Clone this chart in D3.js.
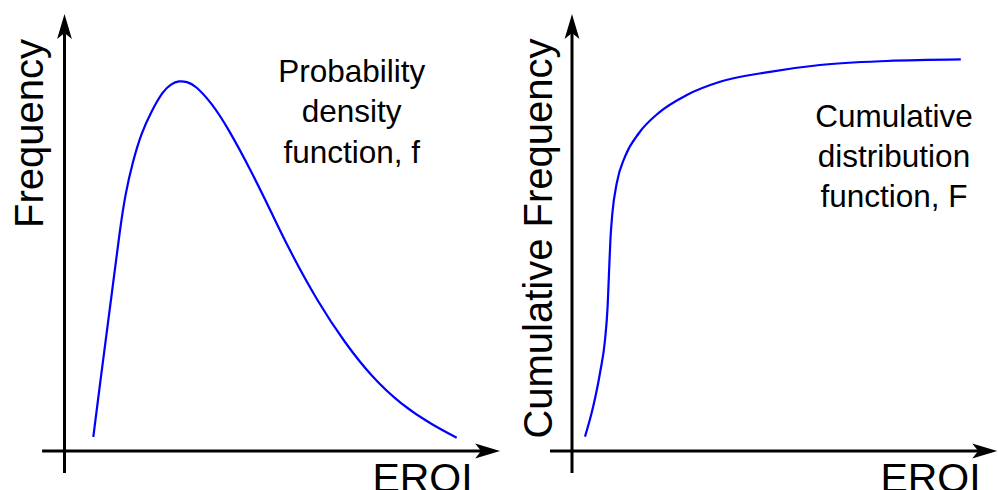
<!DOCTYPE html>
<html>
<head>
<meta charset="utf-8">
<script src="https://cdn.jsdelivr.net/npm/d3@7"></script>
<style>
  html, body { margin: 0; padding: 0; background: #fff; }
  svg { display: block; }
  text { font-family: "Liberation Sans", Arial, Helvetica, sans-serif; fill: #000; }
</style>
</head>
<body>
<svg id="chart" width="998" height="490"></svg>
<script>
// ---- Data (EROI in arbitrary units 0..100, frequency in arbitrary units 0..100) ----
const pdfEROI = [7.2, 8.875, 10.5, 12.125, 13.875, 15.25, 17.125, 19.125, 21.75, 24.625, 26.625, 28.625, 30.625, 32.625, 36.8, 40.875, 46.8, 51.8, 55.95, 63.45, 70.125, 76.8, 84.3, 91.8, 98.05];
const pdfFreq = [3.5, 16.75, 29.25, 41.625, 55.5, 64.5, 72.5, 79.25, 85.0, 90.0, 91.75, 92.575, 92.3, 91.5, 87.0, 80.75, 69.75, 59.5, 50.75, 37.0, 27.0, 18.5, 11.5, 6.625, 3.325];

const cdfEROI = [3.25, 5.3, 7.0, 8.25, 8.9, 9.25, 9.6, 10.1, 11.2, 13.25, 16.75, 21.75, 28.7, 37.0, 49.5, 62.0, 78.7, 97.2];
const cdfFreq = [3.6, 11.1, 19.5, 27.75, 36.1, 44.5, 52.75, 59.5, 67.0, 73.6, 79.5, 84.6, 89.0, 92.3, 94.8, 96.5, 97.5, 97.9];

// axis extents (in data units), with arrow at the max end
const leftXAxisExtent = [-5.6, 108.9];
const leftYAxisExtent = [-5.5, 109.25];
const rightXAxisExtent = [-5.5, 106.3];
const rightYAxisExtent = [-5.5, 109.25];

const labels = {
  leftY: "Frequency",
  rightY: "Cumulative Frequency",
  x: "EROI",
  leftNote: ["Probability", "density", "function, f"],
  rightNote: ["Cumulative", "distribution", "function, F"]
};

// ---- Layout ----
const svg = d3.select("#chart");
const W = 998, H = 490;
svg.append("rect").attr("width", W).attr("height", H).attr("fill", "#fff");

const panels = [
  {
    x: d3.scaleLinear().domain([0, 100]).range([64.5, 464.5]),
    y: d3.scaleLinear().domain([0, 100]).range([451, 51]),
    xs: pdfEROI, ys: pdfFreq, curve: d3.curveBasis,
    xExt: leftXAxisExtent, yExt: leftYAxisExtent,
    yLabel: labels.leftY, yLabelX: 43, yLabelY: 133.5,
    xLabelX: 422.5,
    note: labels.leftNote, noteX: 351.7, noteY: [81.7, 122.4, 163]
  },
  {
    x: d3.scaleLinear().domain([0, 100]).range([572, 972]),
    y: d3.scaleLinear().domain([0, 100]).range([451, 51]),
    xs: cdfEROI, ys: cdfFreq, curve: d3.curveMonotoneX,
    xExt: rightXAxisExtent, yExt: rightYAxisExtent,
    yLabel: labels.rightY, yLabelX: 551.5, yLabelY: 238.5,
    xLabelX: 930.5,
    note: labels.rightNote, noteX: 894, noteY: [126.7, 167, 206.7]
  }
];

const arrowLen = 25, arrowNotch = 19, arrowHalf = 7.4;

panels.forEach(p => {
  const g = svg.append("g");
  const x0 = p.x(0), y0 = p.y(0);

  // x axis
  const xa = p.x(p.xExt[0]), xb = p.x(p.xExt[1]);
  g.append("line")
    .attr("x1", xa).attr("y1", y0).attr("x2", xb - arrowNotch + 1).attr("y2", y0)
    .attr("stroke", "#000").attr("stroke-width", 3);
  g.append("path")
    .attr("d", `M${xb},${y0} L${xb - arrowLen},${y0 - arrowHalf} L${xb - arrowNotch},${y0} L${xb - arrowLen},${y0 + arrowHalf} Z`)
    .attr("fill", "#000");

  // y axis
  const ya = p.y(p.yExt[0]), yb = p.y(p.yExt[1]);
  g.append("line")
    .attr("x1", x0).attr("y1", ya).attr("x2", x0).attr("y2", yb + arrowNotch - 1)
    .attr("stroke", "#000").attr("stroke-width", 3);
  g.append("path")
    .attr("d", `M${x0},${yb} L${x0 - arrowHalf},${yb + arrowLen} L${x0},${yb + arrowNotch} L${x0 + arrowHalf},${yb + arrowLen} Z`)
    .attr("fill", "#000");

  // curve
  const pts = p.xs.map((v, i) => [v, p.ys[i]]);
  const line = d3.line()
    .x(d => p.x(d[0]))
    .y(d => p.y(d[1]))
    .curve(p.curve);
  g.append("path")
    .attr("d", line(pts))
    .attr("fill", "none")
    .attr("stroke", "#0000ff")
    .attr("stroke-width", 2.2);

  // y label
  g.append("text")
    .attr("transform", `translate(${p.yLabelX},${p.yLabelY}) rotate(-90)`)
    .attr("text-anchor", "middle")
    .attr("font-size", 40)
    .text(p.yLabel);

  // x label (cut by the bottom edge, as in the original figure)
  g.append("text")
    .attr("x", p.xLabelX).attr("y", 492)
    .attr("text-anchor", "middle")
    .attr("font-size", 41)
    .text(labels.x);

  // annotation
  p.note.forEach((t, i) => {
    g.append("text")
      .attr("x", p.noteX).attr("y", p.noteY[i])
      .attr("text-anchor", "middle")
      .attr("font-size", 31.5)
      .text(t);
  });
});
</script>
</body>
</html>
